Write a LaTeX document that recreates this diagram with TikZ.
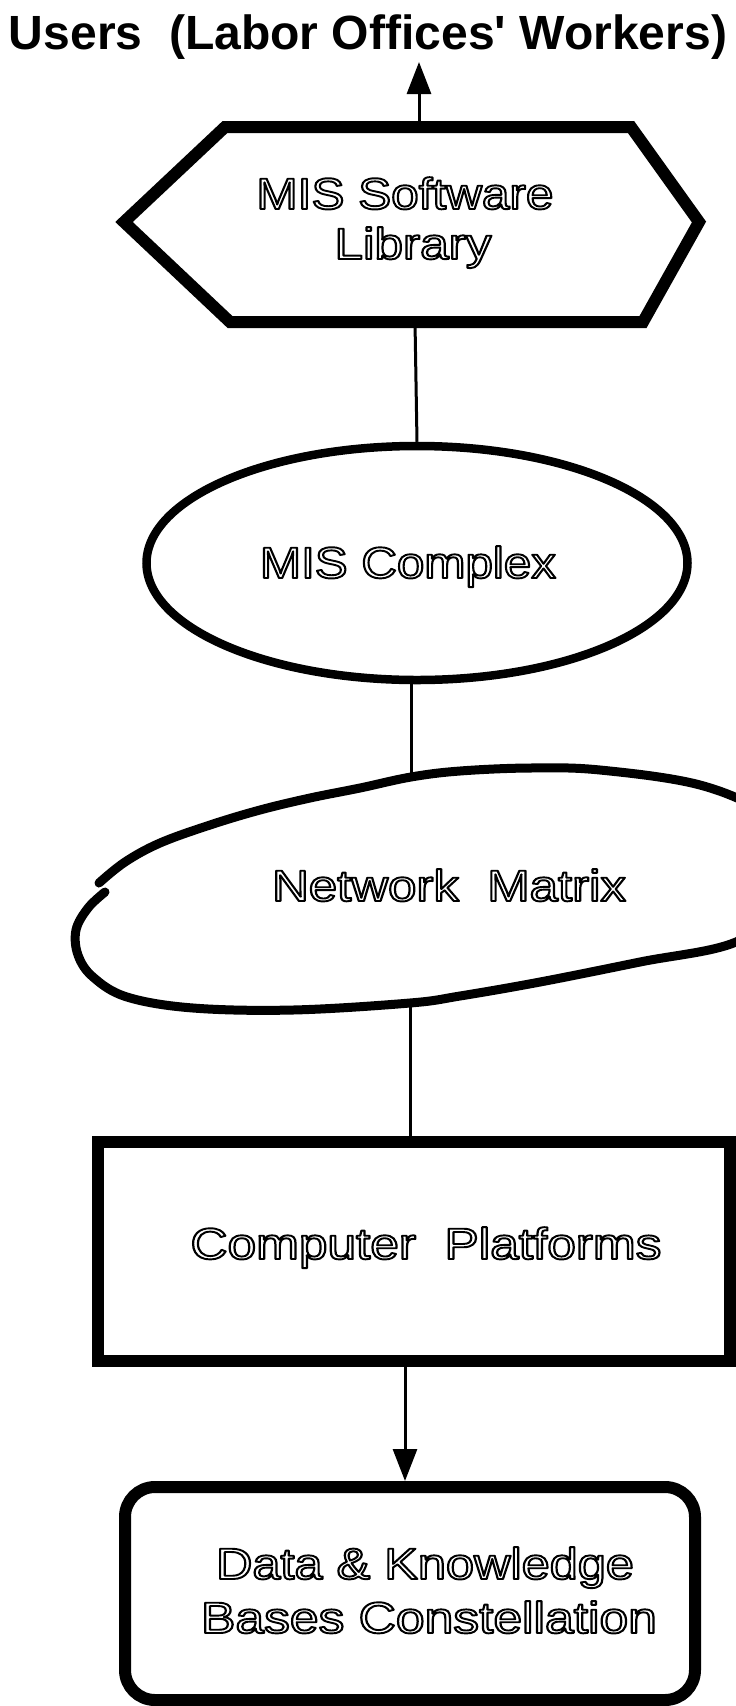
\documentclass[tikz,border=0pt]{standalone}
\usepackage{fontspec}
\usepackage{graphicx}
\newfontfamily\sansfont{Liberation Sans}
\usetikzlibrary{arrows.meta,shapes.geometric}

% hollow lettering: glyphs stroked, not filled (PDF text render mode 1)
\newcommand\hollow[1]{\special{pdf:literal direct 1 Tr 1.9 w 1 J 1 j}#1\special{pdf:literal direct 0 Tr}}
% stretch a line of text to a given width, keeping its height
\newcommand\fitw[2]{\resizebox{#1}{\height}{#2}}

\tikzset{
  heavy/.style={line width=12pt, line join=miter},
  link/.style={line width=3pt},
  arrowlink/.style={link, -{Triangle[length=32pt,width=24pt]}},
  lbl/.style={inner sep=0pt, anchor=base, font=\sansfont\fontsize{44}{50}\selectfont},
}

\begin{document}
\begin{tikzpicture}[x=1pt,y=-1pt]
\useasboundingbox (0,0) rectangle (736,1706);
\clip (0,0) rectangle (736,1706);
\fill[white] (0,0) rectangle (736,1706);

% heading
\node[inner sep=0pt, anchor=base, font=\sansfont\bfseries\fontsize{48}{50}\selectfont]
  (users) at (368,49) {\fitw{718pt}{Users\ \ (Labor Offices' Workers)}};

% software library hexagon
\draw[heavy] (225,127) -- (631,127) -- (699,222) -- (643,322) -- (230,322) -- (124,222) -- cycle;
\coordinate (hexTop) at (419,127);
\coordinate (hexBot) at (415,322);
\coordinate (usersFoot) at (419,62);
\node[lbl] (libA) at (405,209) {\fitw{297pt}{\hollow{MIS Software}}};
\node[lbl] (libB) at (413,259) {\fitw{157pt}{\hollow{Library}}};

% MIS complex
\node[draw, ellipse, line width=8.5pt, minimum width=541pt, minimum height=234pt, inner sep=0pt]
  (cplx) at (417,563) {};
\node[lbl] (cplxText) at (408,578) {\fitw{296pt}{\hollow{MIS Complex}}};

% network matrix blob, with the small jog on its left flank
\draw[line width=9pt, line cap=round] plot[smooth, tension=0.6] coordinates {
  (105,892) (88,908) (76,930) (78,955) (93,977) (127,997) (193,1008)
  (293,1010) (410,1003) (460,996) (540,982) (640,962) (736,942)
  (788,900) (795,852) (768,815) (700,785) (600,770) (530,768)
  (460,771) (411,777) (360,788) (310,798) (260,810) (210,825)
  (160,843) (125,862) (99,883)};
\coordinate (blobTop) at (411,777);
\coordinate (blobBot) at (410,1003);
\node[lbl] (netText) at (449,901) {\fitw{354pt}{\hollow{Network\ \ Matrix}}};

% computer platforms
\node[draw, line width=12pt, minimum width=632pt, minimum height=219pt, inner sep=0pt]
  (plat) at (414,1251.5) {};
\node[lbl] (platText) at (426,1259) {\fitw{471pt}{\hollow{Computer\ \ Platforms}}};
\coordinate (platOut) at (405,1361);

% data and knowledge bases
\node[draw, line width=12pt, rounded corners=30pt, minimum width=570pt, minimum height=213pt, inner sep=0pt]
  (kb) at (410,1593.5) {};
\node[lbl] (kbA) at (425,1579) {\fitw{418pt}{\hollow{Data \& Knowledge}}};
\node[lbl] (kbB) at (429,1633) {\fitw{456pt}{\hollow{Bases Constellation}}};

% connectors
\draw[arrowlink] (hexTop) -- (usersFoot);
\draw[link] (hexBot) -- (cplx.north);
\draw[link] (blobTop |- cplx.south) -- (blobTop);
\draw[link] (blobBot) -- (blobBot |- plat.north);
\draw[arrowlink] (platOut) -- (platOut |- kb.north);
\end{tikzpicture}
\end{document}
